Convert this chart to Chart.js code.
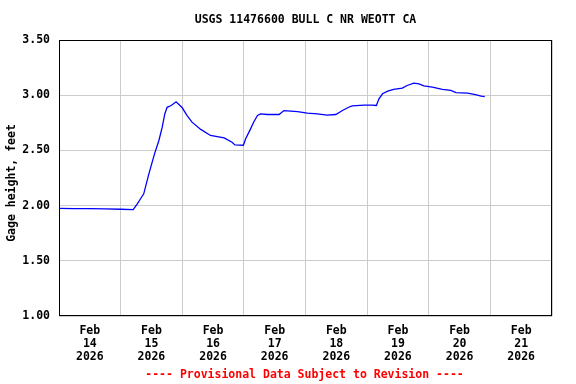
<!DOCTYPE html>
<html>
<head>
<meta charset="utf-8">
<script src="https://cdn.jsdelivr.net/npm/chart.js@4"></script>
<style>
  body { margin: 0; background: #fff; }
</style>
</head>
<body>
<canvas id="gageChart" width="576" height="384"></canvas>
<script>
// hours since Feb 14 2026 00:00
const hours = [0, 6, 12, 18, 24, 28.9, 30.5, 31.7, 33.0, 35.0, 37.2, 38.9, 40.2, 41.2, 42.1, 43.7, 45.6,
  48.0, 49.9, 51.8, 55.2, 59.0, 64.3, 67.4, 68.5, 71.8, 72.7, 74.6, 75.8, 77.3, 78.5, 81.1, 85.7,
  87.6, 92.9, 96.7, 100.6, 104.4, 107.8, 110.4, 112.8, 114.2, 118.8, 121.9, 123.6, 124.6, 126.0,
  128.0, 130.3, 133.7, 135.6, 138.2, 140.2, 142.1, 145.4, 149.3, 152.6, 154.6, 159.1, 162.2, 164.4, 165.8];
const gageHeight = [1.975, 1.973, 1.972, 1.970, 1.967, 1.963, 2.016, 2.06, 2.107, 2.288, 2.469, 2.59, 2.71, 2.83, 2.89, 2.907, 2.94,
  2.886, 2.816, 2.756, 2.69, 2.635, 2.614, 2.574, 2.55, 2.547, 2.605, 2.695, 2.755, 2.816, 2.831, 2.825, 2.825,
  2.861, 2.852, 2.837, 2.831, 2.819, 2.825, 2.861, 2.891, 2.904, 2.91, 2.91, 2.907, 2.967, 3.013,
  3.036, 3.052, 3.064, 3.088, 3.109, 3.103, 3.085, 3.073, 3.052, 3.043, 3.024, 3.018, 3.006, 2.991, 2.988];
const dayLabels = ['14', '15', '16', '17', '18', '19', '20', '21'];
const yTicks = [1.0, 1.5, 2.0, 2.5, 3.0, 3.5];

const titleText = 'USGS 11476600 BULL C NR WEOTT CA';
const footText = '---- Provisional Data Subject to Revision ----';
const yTitle = 'Gage height, feet';
const monoFont = 'DejaVu Sans Mono';

const points = hours.map((h, i) => ({ x: h, y: gageHeight[i] }));

const textPlugin = {
  id: 'usgsText',
  afterDraw(chart) {
    const c = chart.ctx;
    const a = chart.chartArea;
    c.save();
    // frame round the plot
    c.strokeStyle = '#000';
    c.lineWidth = 1;
    c.strokeRect(a.left + 0.5, a.top + 0.5, a.right - a.left - 1, a.bottom - a.top - 1);
    c.font = 'bold 11.5px "' + monoFont + '"';
    c.textAlign = 'center';
    c.textBaseline = 'middle';
    const mid = (a.left + a.right) / 2;
    c.fillStyle = '#000';
    c.fillText(titleText, mid, 20);
    c.fillStyle = '#ff0000';
    c.fillText(footText, mid - 1, 375);
    // y axis title, a little below the plot centre like the original
    c.fillStyle = '#000';
    c.translate(12, (a.top + a.bottom) / 2 + 5);
    c.rotate(-Math.PI / 2);
    c.fillText(yTitle, 0, 0);
    c.restore();
  }
};

const ctx = document.getElementById('gageChart').getContext('2d');
const gageChart = new Chart(ctx, {
  type: 'line',
  data: {
    datasets: [{
      label: 'Gage height',
      data: points,
      borderColor: '#0000ff',
      borderWidth: 1.3,
      pointRadius: 0,
      tension: 0,
      fill: false
    }]
  },
  options: {
    responsive: false,
    animation: false,
    layout: { padding: { top: 40, right: 24, bottom: 0, left: 0 } },
    plugins: {
      legend: { display: false },
      tooltip: { enabled: false }
    },
    scales: {
      x: {
        type: 'linear',
        min: 0,
        max: 192,
        afterBuildTicks: scale => {
          scale.ticks = [];
          for (let h = 0; h <= 192; h += 12) scale.ticks.push({ value: h });
        },
        afterFit: scale => { scale.height = 68; },
        grid: {
          color: c => (c.tick && c.tick.value % 24 === 0) ? '#cccccc' : 'rgba(0,0,0,0)',
          drawTicks: false
        },
        border: { display: false },
        ticks: {
          autoSkip: false,
          maxRotation: 0,
          padding: 9,
          color: '#000',
          font: { family: monoFont, size: 11.5, weight: 'bold', lineHeight: 1.1 },
          callback: v => {
            if (v % 24 !== 12) return '';
            return ['Feb', dayLabels[Math.floor(v / 24)], '2026'];
          }
        }
      },
      y: {
        min: 1,
        max: 3.5,
        afterBuildTicks: scale => { scale.ticks = yTicks.map(v => ({ value: v })); },
        afterFit: scale => { scale.width = 59; },
        grid: { color: '#cccccc', drawTicks: false },
        border: { display: false },
        ticks: {
          padding: 9,
          color: '#000',
          font: { family: monoFont, size: 11.5, weight: 'bold' },
          callback: v => v.toFixed(2)
        }
      }
    }
  },
  plugins: [textPlugin]
});
</script>
</body>
</html>
